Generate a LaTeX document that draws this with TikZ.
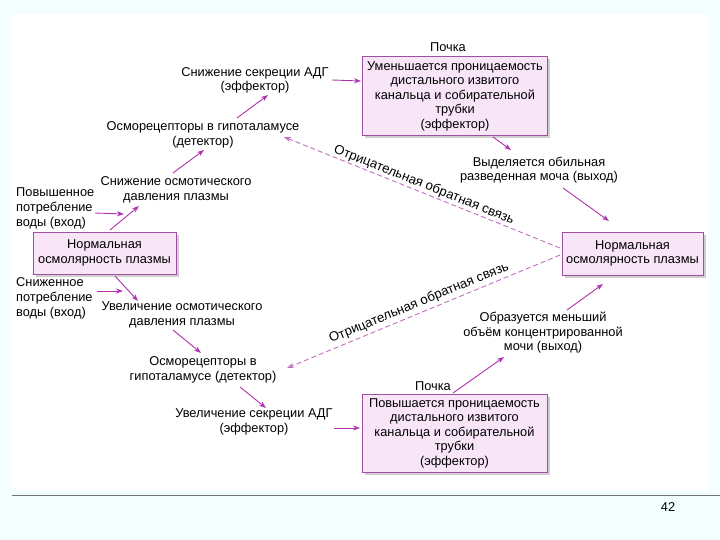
\documentclass[tikz,border=0pt]{standalone}
\usepackage{fontspec}
\setmainfont{Liberation Sans}
\usetikzlibrary{arrows.meta,shadows}
\definecolor{bgc}{HTML}{F3FEFE}
\definecolor{boxfill}{HTML}{F8E6F8}
\definecolor{boxline}{HTML}{A050A0}
\definecolor{arr}{HTML}{B030B0}
\definecolor{dsh}{HTML}{C070C0}
\tikzset{
  lbl/.style={inner sep=0pt, align=center, font=\fontsize{12.8}{14.5}\selectfont},
  lbll/.style={inner sep=0pt, align=left, font=\fontsize{12.8}{15}\selectfont, anchor=west},
  kbox/.style={draw=boxline, fill=boxfill, line width=0.8pt, align=center, inner sep=0pt,
     font=\fontsize{12.8}{14.5}\selectfont,
     drop shadow={shadow xshift=2.5pt, shadow yshift=-2.5pt, fill=black!30, opacity=0.6}},
  arrow/.style={draw=arr, line width=0.9pt, -{Stealth[length=7pt,width=5pt]}},
  fb/.style={draw=dsh, line width=0.9pt, dash pattern=on 5pt off 3pt, -{Stealth[length=7pt,width=5pt]}},
  fbl/.style={inner sep=0pt, font=\fontsize{13.2}{14}\selectfont}
}
\begin{document}
\begin{tikzpicture}[x=1pt,y=-1pt]
\useasboundingbox (0,0) rectangle (720,540);
\fill[bgc] (0,0) rectangle (720,540);
\fill[white] (12,14) rectangle (708,491);
\draw[black!55, line width=1pt] (12,495) -- (720,495);
\node[lbl] (num) at (668,507) {42};

% boxes
\node[kbox, minimum width=185pt, minimum height=79pt] (box1) at (455,96)
  {Уменьшается проницаемость\\дистального извитого\\канальца и собирательной\\трубки\\(эффектор)};
\node[kbox, minimum width=185pt, minimum height=78pt] (box2) at (454.5,433)
  {Повышается проницаемость\\дистального извитого\\канальца и собирательной\\трубки\\(эффектор)};
\node[kbox, minimum width=143pt, minimum height=42pt] (boxL) at (104.5,253)
  {Нормальная\\осмолярность плазмы};
\node[kbox, minimum width=141pt, minimum height=43pt] (boxR) at (632.5,253.5)
  {Нормальная\\осмолярность плазмы};

% labels
\node[lbl] (p1) at (448,47) {Почка};
\node[lbl] (p2) at (433,386) {Почка};
\node[lbl] (eff1) at (255,80.5) {Снижение секреции АДГ\\(эффектор)};
\node[lbl] (det1) at (203,135) {Осморецепторы в гипоталамусе\\(детектор)};
\node[lbl] (dec) at (176,190) {Снижение осмотического\\давления плазмы};
\node[lbll] (inW) at (16,208) {Повышенное\\потребление\\воды (вход)};
\node[lbll] (lowW) at (16,298) {Сниженное\\потребление\\воды (вход)};
\node[lbl] (inc) at (182,315) {Увеличение осмотического\\давления плазмы};
\node[lbl] (det2) at (203,370) {Осморецепторы в\\гипоталамусе (детектор)};
\node[lbl] (eff2) at (254,422) {Увеличение секреции АДГ\\(эффектор)};
\node[lbl] (out1) at (539,170) {Выделяется обильная\\разведенная моча (выход)};
\node[lbl] (out2) at (543,333) {Образуется меньший\\объём концентрированной\\мочи (выход)};

% arrow end points
\coordinate (a1s) at (332,80);  \coordinate (a1e) at (361,81);
\coordinate (a2s) at (237,118); \coordinate (a2e) at (268,95);
\coordinate (a3s) at (173,173); \coordinate (a3e) at (204,150);
\coordinate (a4s) at (110,230); \coordinate (a4e) at (139,206);
\coordinate (a5s) at (95,213);  \coordinate (a5e) at (124,214);
\coordinate (a6s) at (115,276); \coordinate (a6e) at (138,301);
\coordinate (a7s) at (97,291);  \coordinate (a7e) at (123,291);
\coordinate (a8s) at (173,330); \coordinate (a8e) at (201,353);
\coordinate (a9s) at (240,387); \coordinate (a9e) at (266,408);
\coordinate (a10s) at (334,428); \coordinate (a10e) at (360,428);
\coordinate (a11s) at (493,137); \coordinate (a11e) at (511,150);
\coordinate (a12s) at (563,188); \coordinate (a12e) at (609,221);
\coordinate (a13s) at (567,310); \coordinate (a13e) at (603,284);
\coordinate (a14s) at (453,393); \coordinate (a14e) at (504,357);
\coordinate (f1s) at (560,248); \coordinate (f1e) at (284,137);
\coordinate (f2s) at (560,255); \coordinate (f2e) at (287,368);

\draw[arrow] (a1s) -- (a1e);
\draw[arrow] (a2s) -- (a2e);
\draw[arrow] (a3s) -- (a3e);
\draw[arrow] (a4s) -- (a4e);
\draw[arrow] (a5s) -- (a5e);
\draw[arrow] (a6s) -- (a6e);
\draw[arrow] (a7s) -- (a7e);
\draw[arrow] (a8s) -- (a8e);
\draw[arrow] (a9s) -- (a9e);
\draw[arrow] (a10s) -- (a10e);
\draw[arrow] (a11s) -- (a11e);
\draw[arrow] (a12s) -- (a12e);
\draw[arrow] (a13s) -- (a13e);
\draw[arrow] (a14s) -- (a14e);
\draw[fb] (f1s) -- (f1e);
\draw[fb] (f2s) -- (f2e);

\node[fbl, rotate=-21.8] (fb1) at (424,185) {Отрицательная обратная связь};
\node[fbl, rotate=22.4] (fb2) at (419,303) {Отрицательная обратная связь};
\end{tikzpicture}
\end{document}
